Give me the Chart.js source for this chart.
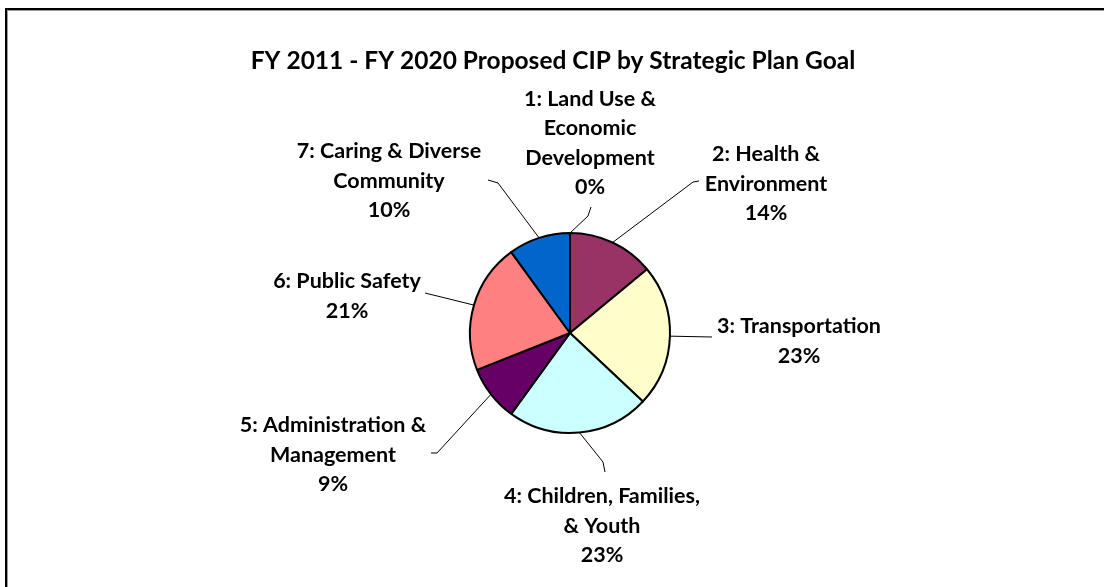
<!DOCTYPE html>
<html>
<head>
<meta charset="utf-8">
<script src="https://cdn.jsdelivr.net/npm/chart.js@4/dist/chart.umd.min.js"></script>
<style>
  html, body { margin: 0; padding: 0; background: #fff; }
  #wrap { position: relative; width: 1104px; height: 587px; overflow: hidden; }
  #frame { position: absolute; left: 5px; top: 8px; width: 1200px; height: 700px;
           border-top: 2px solid #000; border-left: 2px solid #000; }
  #frame::after { content: ""; position: absolute; left: 0; top: 0; right: 0; bottom: 0;
           border-top: 1px solid #9a9a9a; border-left: 1px solid #9a9a9a; }
  canvas { position: absolute; left: 0; top: 0; }
</style>
</head>
<body>
<div id="wrap">
  <div id="frame"></div>
  <canvas id="c" width="1104" height="587"></canvas>
</div>
<script>
// Share of the ten-year CIP by strategic plan goal (percent)
const titleText = 'FY 2011 - FY 2020 Proposed CIP by Strategic Plan Goal';
const categories = [
  ['1: Land Use &', 'Economic', 'Development'],
  ['2: Health &', 'Environment'],
  ['3: Transportation'],
  ['4: Children, Families,', '& Youth'],
  ['5: Administration &', 'Management'],
  ['6: Public Safety'],
  ['7: Caring & Diverse', 'Community']
];
const shares = [0, 14, 23, 23, 9, 21, 10];
const sliceColors = ['#9999FF', '#993366', '#FFFFCC', '#CCFFFF', '#660066', '#FF8080', '#0066CC'];

// Label block centres and leader-line bends, in multiples of the pie radius from its centre
const labelCentres = [[0.20, -1.90], [1.96, -1.49], [2.29, 0.08], [0.32, 1.93], [-2.37, 1.22], [-2.23, -0.37], [-1.81, -1.52]];
const leaderBends = [
  [[0.18, -1.17], [0.21, -1.26]],
  [[1.23, -1.51], [1.29, -1.52]],
  [[1.42, 0.04]],
  [[0.33, 1.29], [0.35, 1.39]],
  [[-1.33, 1.20], [-1.39, 1.20]],
  [[-1.45, -0.40]],
  [[-0.72, -1.50], [-0.82, -1.53]]
];

const FONT = 'Lato, "Liberation Sans", sans-serif';

const calloutPlugin = {
  id: 'callouts',
  afterDatasetsDraw(chart) {
    const ctx = chart.ctx;
    const meta = chart.getDatasetMeta(0);
    const data = chart.data.datasets[0].data;
    const total = data.reduce((a, b) => a + b, 0);
    ctx.save();
    meta.data.forEach((arc, i) => {
      const p = arc.getProps(['x', 'y', 'startAngle', 'endAngle', 'outerRadius'], true);
      const r = p.outerRadius;
      const mid = (p.startAngle + p.endAngle) / 2;
      // leader line
      ctx.beginPath();
      ctx.strokeStyle = '#000';
      ctx.lineWidth = 1;
      ctx.moveTo(p.x + Math.cos(mid) * r, p.y + Math.sin(mid) * r);
      leaderBends[i].forEach(([dx, dy]) => ctx.lineTo(p.x + dx * r, p.y + dy * r));
      ctx.stroke();
      // label text
      const lines = chart.data.labels[i].concat([Math.round(data[i] / total * 100) + '%']);
      const lh = 29.5;
      const cx = p.x + labelCentres[i][0] * r;
      const cy = p.y + labelCentres[i][1] * r;
      ctx.fillStyle = '#000';
      ctx.font = 'bold 21.5px ' + FONT;
      ctx.textAlign = 'center';
      ctx.textBaseline = 'middle';
      lines.forEach((t, k) => {
        ctx.fillText(t, cx, cy + (k - (lines.length - 1) / 2) * lh);
      });
    });
    // chart title
    ctx.font = 'bold 24.5px ' + FONT;
    ctx.textAlign = 'center';
    ctx.textBaseline = 'middle';
    ctx.fillText(titleText, 553, 61);
    ctx.restore();
  }
};

new Chart(document.getElementById('c'), {
  type: 'pie',
  data: {
    labels: categories,
    datasets: [{
      data: shares,
      backgroundColor: sliceColors,
      borderColor: '#000',
      borderWidth: 2
    }]
  },
  options: {
    responsive: false,
    animation: false,
    layout: { padding: { top: 232, bottom: 153, left: 300, right: 264 } },
    plugins: {
      legend: { display: false },
      tooltip: { enabled: false },
      title: { display: false }
    }
  },
  plugins: [calloutPlugin]
});
</script>
</body>
</html>
